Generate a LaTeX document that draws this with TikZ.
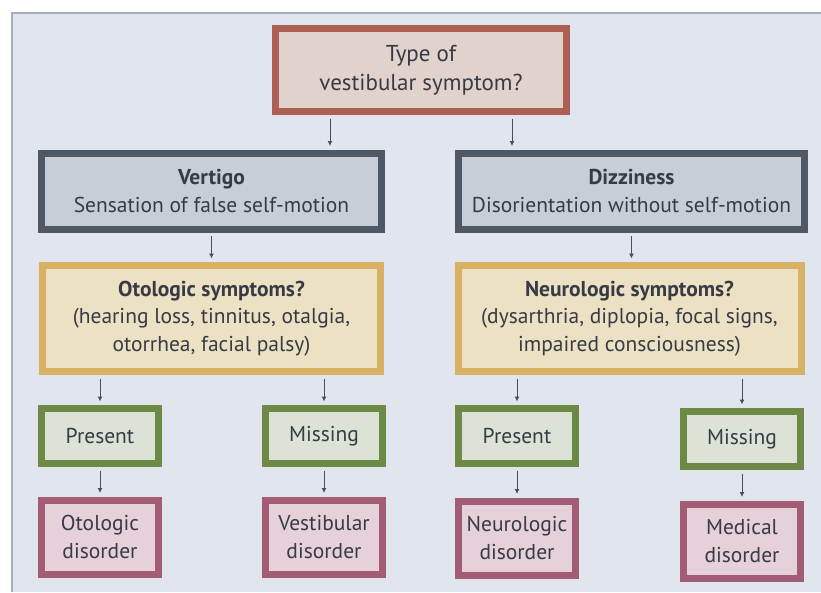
\documentclass[tikz,border=0pt]{standalone}
\usepackage{fontspec}
\setmainfont{PT Sans}
\usetikzlibrary{positioning,arrows.meta}

\definecolor{pagebg}{HTML}{E1E6EE}
\definecolor{framegray}{HTML}{A9AEB6}
\definecolor{txtdark}{HTML}{363B45}
\definecolor{arrgray}{HTML}{4A4E56}
\definecolor{topbrd}{HTML}{AC5F52}
\definecolor{topfill}{HTML}{E2D2CC}
\definecolor{graybrd}{HTML}{4F5965}
\definecolor{grayfill}{HTML}{C7CED8}
\definecolor{yelbrd}{HTML}{D8B264}
\definecolor{yelfill}{HTML}{EDE1C4}
\definecolor{grnbrd}{HTML}{6C8A45}
\definecolor{grnfill}{HTML}{DCE3D6}
\definecolor{disbrd}{HTML}{A25C74}
\definecolor{disfill}{HTML}{E6D1DA}

\begin{document}
\begin{tikzpicture}[x=1pt,y=-1pt,
    box/.style={draw,line width=7pt,align=center,inner sep=0pt,text=txtdark,
      font=\fontsize{21.5}{27.5}\selectfont},
    qbox/.style={box,draw=topbrd,fill=topfill,minimum width=291pt,minimum height=83pt,
      font=\fontsize{23}{29}\selectfont},
    kindbox/.style={box,draw=graybrd,fill=grayfill,minimum height=76pt},
    askbox/.style={box,draw=yelbrd,fill=yelfill,minimum height=106pt},
    ansbox/.style={box,draw=grnbrd,fill=grnfill,minimum width=117pt,minimum height=55pt},
    disbox/.style={box,draw=disbrd,fill=disfill,minimum width=117pt,minimum height=74pt},
    arr/.style={-{Latex[length=5pt,width=5pt]},line width=1pt,draw=arrgray,
      shorten <=3.5pt,shorten >=3.5pt}]

    % page
    \useasboundingbox (0,0) rectangle (821,592);
    \fill[white] (0,0) rectangle (821,592);
    \fill[pagebg] (12,13) rectangle (821,592);
    \draw[framegray,line width=1.5pt] (12,592) -- (12,13) -- (821,13);

    \node[qbox] (type) at (421,70) {Type of\\vestibular symptom?};

    \node[kindbox,minimum width=340pt] (vert) at (211.5,191) {\textbf{Vertigo}\\Sensation of false self-motion};
    \node[kindbox,minimum width=346pt] (dizz) [right of=vert,node distance=420pt] {\textbf{Dizziness}\\Disorientation without self-motion};

    \node[askbox,minimum width=338pt] (oto) [below of=vert,node distance=127.5pt] {\textbf{Otologic symptoms?}\\(hearing loss, tinnitus, otalgia,\\otorrhea, facial palsy)};
    \node[askbox,minimum width=343pt] (neuro) [right of=oto,node distance=418pt] {\textbf{Neurologic symptoms?}\\(dysarthria, diplopia, focal signs,\\impaired consciousness)};

    \node[ansbox] (otopres) at (100,436) {Present};
    \node[ansbox] (otomiss) [right of=otopres,node distance=224pt] {Missing};
    \node[ansbox] (neupres) [right of=otomiss,node distance=193pt] {Present};
    \node[ansbox] (neumiss) at (742,439) {Missing};

    \node[disbox] (otodis) [below of=otopres,node distance=101pt] {Otologic\\disorder};
    \node[disbox] (vestdis) [below of=otomiss,node distance=101pt] {Vestibular\\disorder};
    \node[disbox] (neudis) [below of=neupres,node distance=102pt] {Neurologic\\disorder};
    \node[disbox] (meddis) [below of=neumiss,node distance=102pt] {Medical\\disorder};

    \draw[arr] ([xshift=-91pt]type.south) -- ([xshift=-91pt]type.south |- vert.north);
    \draw[arr] ([xshift=91pt]type.south) -- ([xshift=91pt]type.south |- dizz.north);
    \draw[arr] (vert.south) -- (vert.south |- oto.north);
    \draw[arr] (dizz.south) -- (dizz.south |- neuro.north);

    \draw[arr] (otopres.north |- oto.south) -- (otopres.north);
    \draw[arr] (otomiss.north |- oto.south) -- (otomiss.north);
    \draw[arr] (neupres.north |- neuro.south) -- (neupres.north);
    \draw[arr] (neumiss.north |- neuro.south) -- (neumiss.north);

    \draw[arr] (otopres) -- (otodis);
    \draw[arr] (otomiss) -- (vestdis);
    \draw[arr] (neupres) -- (neudis);
    \draw[arr] (neumiss) -- (meddis);
\end{tikzpicture}
\end{document}
